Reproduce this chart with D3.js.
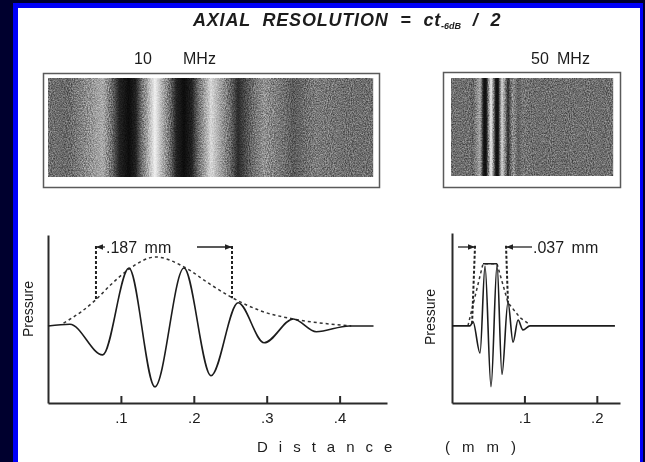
<!DOCTYPE html>
<html>
<head>
<meta charset="utf-8">
<script src="https://cdnjs.cloudflare.com/ajax/libs/d3/7.8.5/d3.min.js"></script>
<style>
html, body { margin: 0; padding: 0; background: #00002e; }
svg { display: block; }
text { font-family: "Liberation Sans", Arial, sans-serif; fill: #1c1c1c; }
</style>
</head>
<body>
<svg id="chart" width="645" height="462"></svg>
<script>
// 10 MHz pulse: distance (mm) vs relative pressure
var dist10 = [0, 0.030, 0.075, 0.111, 0.1466, 0.1865, 0.2236, 0.2608, 0.2965, 0.3365, 0.368, 0.413, 0.4465];
var pres10 = [0, 0.03, -0.50, 1.00, -1.05, 1.00, -0.86, 0.40, -0.29, 0.12, -0.10, 0.0, 0.0];
var envDist10 = [0.0213, 0.045, 0.0654, 0.086, 0.111, 0.148, 0.1865, 0.2236, 0.2538, 0.292, 0.3365, 0.389, 0.416];
var envPres10 = [0.05, 0.24, 0.45, 0.71, 0.98, 1.19, 1.02, 0.71, 0.48, 0.26, 0.12, 0.03, 0.0];
var markDist10 = [0.0658, 0.2524];
var markBottom10 = [0.46, 0.48];
var ticks10 = [0.1, 0.2, 0.3, 0.4];
var tickLabels10 = [".1", ".2", ".3", ".4"];

// 50 MHz pulse
var dist50 = [0, 0.0249, 0.029, 0.0387, 0.0456, 0.0539, 0.0622, 0.069, 0.0773, 0.0843, 0.0912, 0.098, 0.1077, 0.225];
var pres50 = [0, 0, 0.07, -0.47, 1.03, -1.05, 1.05, -0.84, 0.41, -0.28, 0.10, -0.07, 0, 0];
var envDist50 = [0.022, 0.0428, 0.0622, 0.0773, 0.094, 0.1077];
var envPres50 = [0, 1.07, 1.07, 0.40, 0.14, 0.02];
var markTop50 = [0.0318, 0.0746];
var markDist50 = [0.0276, 0.0773];
var markBottom50 = [0, 0.40];
var ticks50 = [0.1, 0.2];
var tickLabels50 = [".1", ".2"];

var markTop = 1.38; // height of the dimension arrows

var svg = d3.select("#chart");

// frame
svg.append("rect").attr("width", 645).attr("height", 462).attr("fill", "#00002e");
svg.append("rect").attr("x", 13).attr("y", 3).attr("width", 630).attr("height", 470).attr("fill", "#0000f8");
svg.append("rect").attr("x", 18).attr("y", 8).attr("width", 622).attr("height", 460).attr("fill", "#ffffff");

var defs = svg.append("defs");
var grain = defs.append("filter").attr("id", "grain")
  .attr("x", 0).attr("y", 0).attr("width", "100%").attr("height", "100%")
  .attr("color-interpolation-filters", "sRGB");
grain.append("feTurbulence").attr("type", "fractalNoise").attr("baseFrequency", "0.95 0.7")
  .attr("numOctaves", 2).attr("seed", 5);
grain.append("feColorMatrix").attr("type", "matrix")
  .attr("values", "1 0 0 0 0  1 0 0 0 0  1 0 0 0 0  0 0 0 0 1");
var ct = grain.append("feComponentTransfer");
["feFuncR", "feFuncG", "feFuncB"].forEach(function(f) {
  ct.append(f).attr("type", "linear").attr("slope", 1.6).attr("intercept", -0.3);
});

defs.append("marker").attr("id", "ah")
  .attr("viewBox", "0 0 10 10").attr("refX", 10).attr("refY", 5)
  .attr("markerUnits", "userSpaceOnUse").attr("markerWidth", 8).attr("markerHeight", 7)
  .attr("orient", "auto")
  .append("path").attr("d", "M0,1 L10,5 L0,9 z").attr("fill", "#222");

// title
var title = svg.append("text").attr("x", 193).attr("y", 26)
  .style("font-size", "18px").style("font-weight", "bold").style("font-style", "italic")
  .style("letter-spacing", "0.8px").style("word-spacing", "6px");
title.append("tspan").text("AXIAL RESOLUTION = ct");
title.append("tspan").attr("dy", 3).style("font-size", "9px").style("letter-spacing", "0px").text("-6dB");
title.append("tspan").attr("dy", -3).text(" / 2");

var gray = d3.scaleLinear()
  .domain([-1.05, -0.35, 0, 0.45, 1.05])
  .range(["#f0f0f0", "#989898", "#6e6e6e", "#222222", "#0a0a0a"])
  .clamp(true);

function panel(o) {
  var x = d3.scaleLinear().domain(o.xDomain).range(o.xRange);
  var y = d3.scaleLinear().domain([-1.33, o.yTop]).range([403, o.yTopPx]);
  var interp = d3.scaleLinear().domain(o.dist).range(o.pres).clamp(true);

  // label over the image
  var lab = svg.append("text").attr("y", 64).style("font-size", "16px");
  lab.append("tspan").attr("x", o.labX[0]).text(o.label[0]);
  lab.append("tspan").attr("x", o.labX[1]).text(o.label[1]);

  // image of the pulse, one column per pixel
  var cols = d3.range(o.img[0], o.img[1]);
  svg.append("g").selectAll("rect").data(cols).enter().append("rect")
    .attr("x", function(d) { return d; })
    .attr("y", o.img[2])
    .attr("width", 1.2)
    .attr("height", o.img[3] - o.img[2])
    .attr("fill", function(d) { return gray(interp(x.invert(d + 0.5))); });
  svg.append("rect")
    .attr("x", o.img[0]).attr("y", o.img[2])
    .attr("width", o.img[1] - o.img[0]).attr("height", o.img[3] - o.img[2])
    .attr("filter", "url(#grain)")
    .style("mix-blend-mode", "overlay").style("opacity", 0.45);
  svg.append("rect")
    .attr("x", o.box[0] + 0.5).attr("y", o.box[1] + 0.5)
    .attr("width", o.box[2] - o.box[0]).attr("height", o.box[3] - o.box[1])
    .attr("fill", "none").attr("stroke", "#5a5a5a").attr("stroke-width", 1.5);

  // axes
  var xAxis = d3.axisBottom(x)
    .tickValues(o.ticks)
    .tickFormat(function(d, i) { return o.tickLabels[i]; })
    .tickSize(-7).tickSizeOuter(0).tickPadding(9);
  var gx = svg.append("g").attr("transform", "translate(0,403)").call(xAxis);
  gx.selectAll("path, line").attr("stroke", "#2a2a2a").attr("stroke-width", 2);
  gx.selectAll("text").style("font-size", "15px").attr("fill", "#1c1c1c")
    .style("font-family", "'Liberation Sans', Arial, sans-serif");

  var gy = svg.append("g").attr("transform", "translate(" + o.xRange[0] + ",0)")
    .call(d3.axisLeft(y).tickValues([]).tickSizeOuter(0));
  gy.select("path").attr("stroke", "#2a2a2a").attr("stroke-width", 2);

  svg.append("text")
    .attr("transform", "translate(" + o.pLab[0] + "," + o.pLab[1] + ") rotate(-90)")
    .attr("text-anchor", "middle").style("font-size", "14px").text("Pressure");

  // envelope
  var env = o.envDist.map(function(d, i) { return [d, o.envPres[i]]; });
  svg.append("path").datum(env)
    .attr("d", d3.line().x(function(d) { return x(d[0]); }).y(function(d) { return y(d[1]); }).curve(o.envCurve))
    .attr("fill", "none").attr("stroke", "#333").attr("stroke-width", 1.5)
    .attr("stroke-dasharray", "3,3");
  if (o.flatTop) {
    svg.append("line")
      .attr("x1", x(env[1][0])).attr("x2", x(env[2][0]))
      .attr("y1", y(env[1][1])).attr("y2", y(env[2][1]))
      .attr("stroke", "#222").attr("stroke-width", 1.5);
  }

  // pulse
  var wave = o.dist.map(function(d, i) { return [d, o.pres[i]]; });
  svg.append("path").datum(wave)
    .attr("d", d3.line().x(function(d) { return x(d[0]); }).y(function(d) { return y(d[1]); }).curve(d3.curveMonotoneX))
    .attr("fill", "none").attr("stroke", "#1c1c1c").attr("stroke-width", 1.6);

  // -6 dB markers
  o.markTop.forEach(function(d, i) {
    svg.append("line")
      .attr("x1", x(d)).attr("y1", y(markTop))
      .attr("x2", x(o.markDist[i])).attr("y2", y(o.markBottom[i]))
      .attr("stroke", "#222").attr("stroke-width", 2).attr("stroke-dasharray", "3,2");
  });
  return x;
}

var x10 = panel({
  xDomain: [0, 0.465], xRange: [48, 387], yTop: 1.57, yTopPx: 235,
  dist: dist10, pres: pres10, envDist: envDist10, envPres: envPres10,
  envCurve: d3.curveMonotoneX, flatTop: false,
  markTop: markDist10, markDist: markDist10, markBottom: markBottom10,
  ticks: ticks10, tickLabels: tickLabels10,
  label: ["10", "MHz"], labX: [134, 183],
  img: [48, 373, 78, 177], box: [43, 73, 379, 187],
  pLab: [33, 309]
});

var x50 = panel({
  xDomain: [0, 0.232], xRange: [452, 620], yTop: 1.60, yTopPx: 233,
  dist: dist50, pres: pres50, envDist: envDist50, envPres: envPres50,
  envCurve: d3.curveLinear, flatTop: true,
  markTop: markTop50, markDist: markDist50, markBottom: markBottom50,
  ticks: ticks50, tickLabels: tickLabels50,
  label: ["50", "MHz"], labX: [531, 557],
  img: [451, 613, 78, 176], box: [443, 72, 620, 187],
  pLab: [435, 317]
});

// dimension labels with arrows
var yArrow = 247;
function arrow(x1, x2) {
  svg.append("line").attr("x1", x1).attr("x2", x2).attr("y1", yArrow).attr("y2", yArrow)
    .attr("stroke", "#222").attr("stroke-width", 1.3).attr("marker-end", "url(#ah)");
}
arrow(x10(markDist10[0]) + 9, x10(markDist10[0]));
arrow(x10(markDist10[1]) - 35, x10(markDist10[1]));
svg.append("text").attr("x", x10(markDist10[0]) + 10).attr("y", yArrow + 6)
  .style("font-size", "16px").style("word-spacing", "3px").text(".187 mm");

arrow(x50(markTop50[0]) - 17, x50(markTop50[0]));
arrow(x50(markTop50[1]) + 26, x50(markTop50[1]));
svg.append("text").attr("x", x50(markTop50[1]) + 27).attr("y", yArrow + 6)
  .style("font-size", "16px").style("word-spacing", "3px").text(".037 mm");

// axis title
svg.append("text").attr("x", 257).attr("y", 452)
  .style("font-size", "15px").style("letter-spacing", "11px").text("Distance");
svg.append("text").attr("x", 445).attr("y", 452)
  .style("font-size", "15px").style("letter-spacing", "12px").text("(mm)");
</script>
</body>
</html>
